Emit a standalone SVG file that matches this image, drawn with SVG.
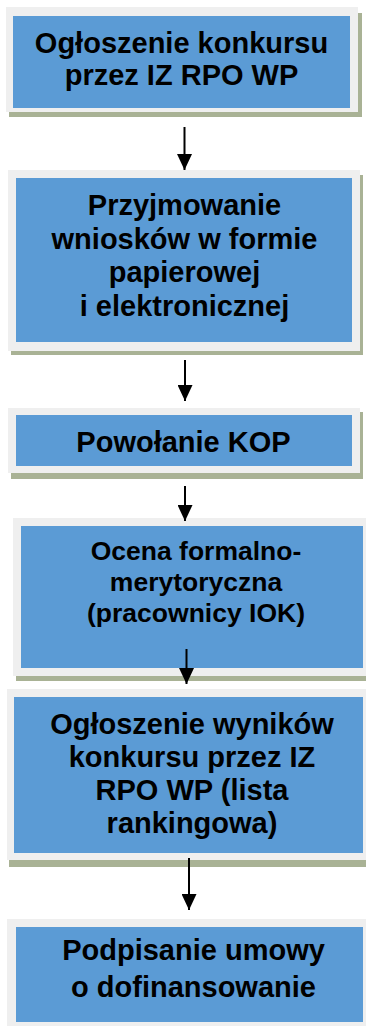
<svg xmlns="http://www.w3.org/2000/svg" width="366" height="1026" viewBox="0 0 366 1026">
<style>
.sh{fill:#a9b295}
.fr{fill:#efefef}
.bx{fill:#5b9bd5}
.t{font-family:"Liberation Sans",Arial,sans-serif;font-weight:bold;font-size:29px;fill:#000;text-anchor:middle}
.t4{font-size:26.5px}
.c{stroke:#000;stroke-width:2;fill:none;marker-end:url(#ah)}
</style>
<defs>
<marker id="ah" viewBox="0 0 16 15" refX="16" refY="7.5" markerWidth="16" markerHeight="15" markerUnits="userSpaceOnUse" orient="auto">
<path d="M0,0 L16,7.5 L0,15 Z" fill="#000"/>
</marker>
</defs>
<rect width="366" height="1026" fill="#fff"/>
<g id="n1">
<rect class="sh" x="9" y="13" width="353" height="104"/>
<rect class="fr" x="6" y="7" width="352" height="105"/>
<rect class="bx" x="13" y="16" width="337" height="92"/>
<text class="t" x="181.5" y="53">Ogłoszenie konkursu</text>
<text class="t" x="181.5" y="85">przez IZ RPO WP</text>
</g>
<g id="n2">
<rect class="sh" x="11" y="175" width="352" height="180"/>
<rect class="fr" x="8" y="170" width="352" height="181"/>
<rect class="bx" x="16" y="178" width="336" height="164"/>
<text class="t" x="184.5" y="215">Przyjmowanie</text>
<text class="t" x="184.5" y="248.5">wniosków w formie</text>
<text class="t" x="184.5" y="282">papierowej</text>
<text class="t" x="184.5" y="315.5">i elektronicznej</text>
</g>
<g id="n3">
<rect class="sh" x="11" y="412" width="352" height="67"/>
<rect class="fr" x="8" y="408" width="352" height="65"/>
<rect class="bx" x="16" y="415" width="336" height="51"/>
<text class="t" x="183.5" y="452">Powołanie KOP</text>
</g>
<g id="n4">
<rect class="sh" x="16" y="523" width="352" height="158"/>
<rect class="fr" x="13" y="518" width="355" height="158"/>
<rect class="bx" x="21" y="526" width="342" height="142"/>
<text class="t t4" x="196" y="560">Ocena formalno-</text>
<text class="t t4" x="196" y="591">merytoryczna</text>
<text class="t t4" x="196" y="622">(pracownicy IOK)</text>
</g>
<g id="n5">
<rect class="sh" x="9" y="694" width="360" height="173"/>
<rect class="fr" x="7" y="689" width="362" height="171"/>
<rect class="bx" x="14" y="697" width="349" height="156"/>
<text class="t" x="192" y="734">Ogłoszenie wyników</text>
<text class="t" x="192" y="767">konkursu przez IZ</text>
<text class="t" x="192" y="800">RPO WP (lista</text>
<text class="t" x="192" y="833">rankingowa)</text>
</g>
<g id="n6">
<rect class="sh" x="9" y="924" width="360" height="110"/>
<rect class="fr" x="7" y="919" width="362" height="110"/>
<rect class="bx" x="16" y="927" width="347" height="95"/>
<text class="t" x="193.5" y="960">Podpisanie umowy</text>
<text class="t" x="193.5" y="996.5">o dofinansowanie</text>
</g>
<g id="connectors">
<line class="c" x1="184.5" y1="127" x2="184.5" y2="170"/>
<line class="c" x1="185" y1="360" x2="185" y2="401"/>
<line class="c" x1="185" y1="486" x2="185" y2="521"/>
<line class="c" x1="186.5" y1="649" x2="186.5" y2="684"/>
<line class="c" x1="189" y1="858" x2="189" y2="910"/>
</g>
</svg>
